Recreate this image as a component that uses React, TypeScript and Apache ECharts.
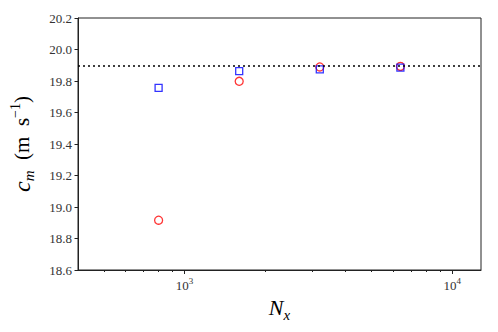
import React, { useEffect, useRef } from "react";
import * as echarts from "echarts";

const nx = [800, 1600, 3200, 6400];
const cmCircle = [18.916, 19.798, 19.889, 19.893];
const cmSquare = [19.756, 19.863, 19.874, 19.885];
const cmRef = 19.9;
const xMajorTicks = [1000, 10000];
const xMinorTicks = [500, 600, 700, 800, 900, 2000, 3000, 4000, 5000, 6000, 7000, 8000, 9000];

const FONT = "'Liberation Serif', serif";

export default function App() {
  const ref = useRef<HTMLDivElement>(null);
  useEffect(() => {
    if (!ref.current) return;
    const chart = echarts.init(ref.current, null, { renderer: "svg" });
    const axisColor = "#222";
    chart.setOption({
      animation: false,
      grid: {
        left: 73,
        right: 17,
        top: 18,
        bottom: 62,
        show: true,
        borderColor: axisColor,
        borderWidth: 1,
        backgroundColor: "transparent",
      },
      xAxis: [
        {
          type: "log",
          logBase: 10,
          min: 400,
          max: 12800,
          position: "bottom",
          axisLine: { show: true, lineStyle: { color: axisColor, width: 1 } },
          axisTick: { show: true, customValues: xMajorTicks, length: 4, lineStyle: { color: axisColor } },
          axisLabel: {
            customValues: xMajorTicks,
            margin: 6,
            formatter: (v: number) => `{b|10}{s|${Math.round(Math.log10(v))}}`,
            rich: {
              b: { fontFamily: FONT, fontSize: 13, color: "#333", verticalAlign: "bottom", lineHeight: 16 },
              s: { fontFamily: FONT, fontSize: 9, color: "#333", verticalAlign: "top", lineHeight: 16 },
            },
          },
          splitLine: { show: false },
          minorTick: { show: false },
          name: "{i|N}{sub|x}",
          nameLocation: "middle",
          nameGap: 15,
          nameTextStyle: {
            rich: {
              i: { fontFamily: FONT, fontStyle: "italic", fontSize: 22, color: "#000", verticalAlign: "top", lineHeight: 26 },
              sub: { fontFamily: FONT, fontStyle: "italic", fontSize: 15, color: "#000", verticalAlign: "bottom", lineHeight: 26 },
            },
          },
        },
        {
          type: "log",
          logBase: 10,
          min: 400,
          max: 12800,
          position: "bottom",
          gridIndex: 0,
          axisLine: { show: false },
          axisTick: { show: true, customValues: xMinorTicks, length: 2, lineStyle: { color: axisColor } },
          axisLabel: { show: false },
          splitLine: { show: false },
        },
      ],
      yAxis: {
        type: "value",
        min: 18.6,
        max: 20.2,
        interval: 0.2,
        axisLine: { show: true, lineStyle: { color: axisColor, width: 1 } },
        axisTick: { show: true, length: 3.5, lineStyle: { color: axisColor } },
        axisLabel: {
          margin: 6,
          fontFamily: FONT,
          fontSize: 13,
          color: "#333",
          formatter: (v: number) => v.toFixed(1),
        },
        splitLine: { show: false },
        name: "{i|c}{sub|m}{n|  (m\u2002s}{sup|−1}{n|)}",
        nameLocation: "middle",
        nameGap: 42,
        nameRotate: 90,
        nameTextStyle: {
          rich: {
            i: { fontFamily: FONT, fontStyle: "italic", fontSize: 24, color: "#000", verticalAlign: "middle", lineHeight: 28 },
            sub: { fontFamily: FONT, fontStyle: "italic", fontSize: 15, color: "#000", verticalAlign: "bottom", lineHeight: 28 },
            n: { fontFamily: FONT, fontSize: 21, color: "#000", verticalAlign: "middle", lineHeight: 28 },
            sup: { fontFamily: FONT, fontSize: 14, color: "#000", verticalAlign: "top", lineHeight: 28 },
          },
        },
      },
      series: [
        {
          type: "scatter",
          name: "circle",
          xAxisIndex: 0,
          data: nx.map((x, i) => [x, cmCircle[i]]),
          symbol: "circle",
          symbolSize: 8,
          itemStyle: { color: "rgba(0,0,0,0)", borderColor: "#ff0000", borderWidth: 1.3 },
          markLine: {
            silent: true,
            symbol: "none",
            label: { show: false },
            lineStyle: { color: "#000", type: [2, 3], width: 1.5 },
            data: [{ yAxis: cmRef }],
          },
          z: 3,
        },
        {
          type: "scatter",
          name: "square",
          xAxisIndex: 0,
          data: nx.map((x, i) => [x, cmSquare[i]]),
          symbol: "rect",
          symbolSize: 7,
          itemStyle: { color: "rgba(0,0,0,0)", borderColor: "#0000ff", borderWidth: 1.3 },
          z: 4,
        },
      ],
    });
    return () => chart.dispose();
  }, []);
  return <div ref={ref} style={{ width: 498, height: 332, position: "absolute", left: 0, top: 0 }} />;
}
